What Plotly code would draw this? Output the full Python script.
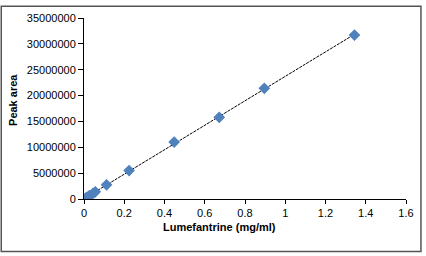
import plotly.graph_objects as go
import numpy as np

conc = [0.0, 0.0112, 0.0224, 0.028, 0.0448, 0.056, 0.112, 0.224, 0.448, 0.672, 0.896, 1.344]
area = [0, 250000, 520000, 680000, 1080000, 1380000, 2750000, 5500000, 11000000, 15800000, 21400000, 31700000]
x_ticks = [0, 0.2, 0.4, 0.6, 0.8, 1, 1.2, 1.4, 1.6]
y_ticks = list(range(0, 35000001, 5000000))

slope, intercept = np.polyfit(conc, area, 1)
fit_x = [0.0, max(conc)]
fit_y = [intercept + slope * v for v in fit_x]

fig = go.Figure()
fig.add_trace(go.Scatter(x=fit_x, y=fit_y, mode="lines",
                         line=dict(color="black", width=1, dash="3px,1px"),
                         showlegend=False, hoverinfo="skip"))
fig.add_trace(go.Scatter(x=conc, y=area, mode="markers",
                         marker=dict(symbol="diamond", size=9, color="#4f81bd"),
                         showlegend=False))

fig.update_layout(
    width=426, height=256,
    margin=dict(l=84, r=19, t=13, b=57),
    paper_bgcolor="white", plot_bgcolor="white",
    font=dict(family="Liberation Sans, Arial, sans-serif", size=11, color="black"),
    xaxis=dict(range=[0, 1.6], tickvals=x_ticks,
               ticktext=[f"{v:g}" for v in x_ticks],
               showgrid=False, zeroline=False, showline=True, linecolor="black", linewidth=1,
               ticks="outside", ticklen=4, tickcolor="black"),
    yaxis=dict(range=[0, 35000000], tickvals=y_ticks,
               ticktext=[str(v) for v in y_ticks],
               showgrid=False, zeroline=False, showline=True, linecolor="black", linewidth=1,
               ticks="outside", ticklen=5, tickcolor="black"),
)
fig.add_annotation(text="<b>Lumefantrine (mg/ml)</b>", xref="paper", yref="paper",
                   x=(220 - 84) / 323, y=-(228 - 199) / 186, showarrow=False,
                   xanchor="center", yanchor="middle", font=dict(size=11))
fig.add_annotation(text="<b>Peak area</b>", xref="paper", yref="paper",
                   x=-(84 - 13) / 323, y=(199 - 97) / 186, showarrow=False, textangle=-90,
                   xanchor="center", yanchor="middle", font=dict(size=11))
# outer frame
fig.add_shape(type="rect", xref="paper", yref="paper",
              x0=-83/323, x1=1 + 15/323, y0=-(253-199)/186, y1=1 + 12/186,
              line=dict(color="#555555", width=1.5), fillcolor="rgba(0,0,0,0)")
fig.write_html("out.html")
